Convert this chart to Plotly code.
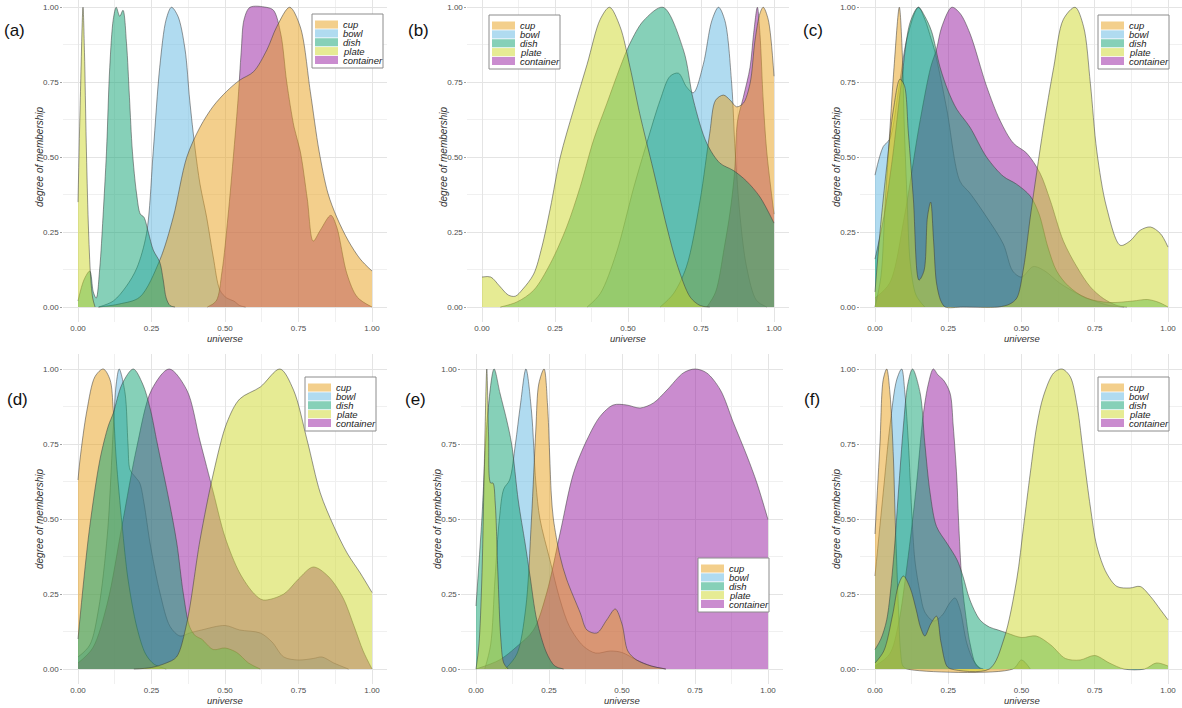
import plotly.graph_objects as go

# ---------------- data ----------------
CATEGORIES = ["cup", "bowl", "dish", "plate", "container"]
DRAW_ORDER = ["bowl", "container", "cup", "dish", "plate"]
TICK_VALS = [0, 0.25, 0.5, 0.75, 1.0]
TICK_TEXT = ["0.00", "0.25", "0.50", "0.75", "1.00"]
MINOR_VALS = [0.125, 0.375, 0.625, 0.875]
PANEL_LABELS = ["(a)", "(b)", "(c)", "(d)", "(e)", "(f)"]
X_TITLE = "universe"
Y_TITLE = "degree of membership"

# panel (a)
a_cup = [(0.07, 0.0), (0.14, 0.01), (0.21, 0.033), (0.278, 0.156), (0.324, 0.3), (0.37, 0.5), (0.415, 0.6),
         (0.46, 0.67), (0.506, 0.72), (0.55, 0.757), (0.597, 0.785), (0.642, 0.857), (0.676, 0.935), (0.72, 1.0),
         (0.756, 0.935), (0.79, 0.72), (0.82, 0.52), (0.85, 0.38), (0.88, 0.3), (0.92, 0.22), (0.96, 0.16), (1.0, 0.12)]
a_bowl = [(0.07, 0.0), (0.12, 0.02), (0.165, 0.07), (0.2, 0.13), (0.233, 0.245), (0.256, 0.52), (0.278, 0.8),
          (0.3, 0.96), (0.318, 1.0), (0.34, 0.97), (0.364, 0.86), (0.38, 0.69), (0.398, 0.53), (0.415, 0.41),
          (0.4375, 0.3), (0.46, 0.167), (0.483, 0.056), (0.506, 0.03), (0.53, 0.02), (0.55, 0.005), (0.57, 0.0)]
a_dish = [(0.0, 0.02), (0.02, 0.09), (0.04, 0.12), (0.052, 0.05), (0.062, 0.03), (0.074, 0.13), (0.085, 0.3),
          (0.097, 0.52), (0.108, 0.8), (0.12, 0.96), (0.13, 1.0), (0.142, 0.97), (0.153, 0.99), (0.165, 0.88),
          (0.175, 0.7), (0.185, 0.52), (0.199, 0.38), (0.212, 0.31), (0.224, 0.3), (0.239, 0.25), (0.256, 0.19),
          (0.278, 0.15), (0.29, 0.09), (0.3, 0.03), (0.313, 0.005), (0.33, 0.0)]
a_plate = [(0.0, 0.35), (0.008, 0.7), (0.017, 1.0), (0.022, 0.85), (0.028, 0.55), (0.035, 0.28), (0.043, 0.1),
           (0.05, 0.03), (0.058, 0.0)]
a_container = [(0.44, 0.0), (0.47, 0.02), (0.49, 0.12), (0.51, 0.3), (0.53, 0.52), (0.545, 0.7), (0.555, 0.85),
               (0.565, 0.96), (0.585, 1.0), (0.64, 1.0), (0.665, 0.99), (0.69, 0.91), (0.71, 0.75), (0.735, 0.6),
               (0.756, 0.52), (0.78, 0.36), (0.8, 0.22), (0.824, 0.256), (0.86, 0.306), (0.88, 0.267),
               (0.915, 0.11), (0.95, 0.033), (1.0, 0.0)]

# panel (b)
b_cup = [(0.61, 0.0), (0.656, 0.045), (0.7, 0.134), (0.747, 0.356), (0.78, 0.58), (0.8, 0.69), (0.827, 0.707),
         (0.85, 0.69), (0.872, 0.668), (0.895, 0.68), (0.918, 0.746), (0.935, 0.89), (0.952, 0.98), (0.963, 1.0),
         (0.98, 0.96), (1.0, 0.77)]
b_bowl = [(0.36, 0.0), (0.405, 0.045), (0.46, 0.18), (0.52, 0.4), (0.564, 0.546), (0.61, 0.69), (0.644, 0.77),
          (0.673, 0.78), (0.7, 0.735), (0.724, 0.715), (0.758, 0.81), (0.787, 0.955), (0.81, 1.0), (0.832, 0.955),
          (0.855, 0.746), (0.867, 0.52), (0.884, 0.3), (0.906, 0.134), (0.94, 0.022), (0.975, 0.0)]
b_dish = [(0.063, 0.0), (0.12, 0.017), (0.177, 0.056), (0.234, 0.145), (0.29, 0.267), (0.336, 0.4), (0.382, 0.557),
          (0.428, 0.68), (0.473, 0.8), (0.507, 0.88), (0.553, 0.955), (0.62, 1.0), (0.69, 0.857), (0.724, 0.69),
          (0.77, 0.546), (0.815, 0.48), (0.86, 0.456), (0.906, 0.42), (0.952, 0.367), (1.0, 0.28)]
b_plate = [(0.0, 0.1), (0.03, 0.1), (0.06, 0.07), (0.09, 0.04), (0.114, 0.036), (0.14, 0.06), (0.177, 0.11),
           (0.205, 0.2), (0.234, 0.33), (0.268, 0.5), (0.314, 0.66), (0.36, 0.81), (0.405, 0.96), (0.437, 1.0),
           (0.473, 0.935), (0.507, 0.8), (0.54, 0.646), (0.587, 0.456), (0.633, 0.267), (0.667, 0.145),
           (0.713, 0.033), (0.747, 0.005), (0.78, 0.0)]
b_container = [(0.77, 0.0), (0.8, 0.05), (0.83, 0.2), (0.85, 0.32), (0.865, 0.45), (0.875, 0.62), (0.895, 0.7),
               (0.918, 0.8), (0.93, 0.91), (0.943, 1.0), (0.952, 0.91), (0.963, 0.69), (0.975, 0.52), (1.0, 0.31)]

# panel (c)
c_cup = [(0.0, 0.0), (0.02, 0.1), (0.035, 0.35), (0.05, 0.58), (0.065, 0.8), (0.083, 1.0), (0.093, 0.85),
         (0.1, 0.6), (0.11, 0.35), (0.12, 0.15), (0.14, 0.04), (0.17, 0.0)]
c_bowl = [(0.0, 0.44), (0.028, 0.535), (0.05, 0.56), (0.08, 0.72), (0.11, 0.9), (0.148, 1.0), (0.17, 0.96),
          (0.19, 0.9), (0.205, 0.85), (0.245, 0.66), (0.29, 0.42), (0.324, 0.38), (0.381, 0.3), (0.438, 0.21),
          (0.47, 0.12), (0.5, 0.1), (0.54, 0.135), (0.58, 0.12), (0.63, 0.08), (0.7, 0.04), (0.75, 0.02),
          (0.8, 0.005), (0.85, 0.0)]
c_dish = [(0.0, 0.16), (0.03, 0.3), (0.06, 0.5), (0.09, 0.75), (0.12, 0.95), (0.148, 1.0), (0.17, 0.97),
          (0.193, 0.92), (0.222, 0.8), (0.25, 0.72), (0.279, 0.66), (0.324, 0.6), (0.381, 0.5), (0.438, 0.436),
          (0.483, 0.41), (0.53, 0.37), (0.56, 0.31), (0.59, 0.2), (0.62, 0.12), (0.66, 0.07), (0.72, 0.03),
          (0.8, 0.015), (0.88, 0.02), (0.93, 0.025), (0.97, 0.015), (1.0, 0.0)]
c_plate = [(0.0, 0.05), (0.017, 0.25), (0.04, 0.47), (0.063, 0.66), (0.085, 0.76), (0.1, 0.74), (0.114, 0.58),
           (0.131, 0.36), (0.15, 0.09), (0.167, 0.12), (0.179, 0.3), (0.19, 0.35), (0.2, 0.22), (0.21, 0.08),
           (0.225, 0.02), (0.24, 0.0), (0.3, 0.0), (0.42, 0.0), (0.46, 0.01), (0.484, 0.03), (0.507, 0.13),
           (0.53, 0.3), (0.552, 0.45), (0.575, 0.6), (0.61, 0.8), (0.643, 0.96), (0.683, 1.0), (0.712, 0.935),
           (0.735, 0.746), (0.757, 0.52), (0.79, 0.334), (0.837, 0.206), (0.87, 0.22), (0.905, 0.256),
           (0.94, 0.267), (0.974, 0.245), (1.0, 0.2)]
c_container = [(0.0, 0.03), (0.05, 0.08), (0.1, 0.3), (0.15, 0.6), (0.19, 0.8), (0.21, 0.86), (0.228, 0.935),
               (0.262, 1.0), (0.29, 0.98), (0.324, 0.913), (0.381, 0.736), (0.426, 0.624), (0.472, 0.547),
               (0.518, 0.513), (0.563, 0.447), (0.598, 0.356), (0.643, 0.22), (0.689, 0.134), (0.735, 0.067),
               (0.78, 0.028), (0.826, 0.005), (0.86, 0.0)]

# panel (d)
d_cup = [(0.0, 0.63), (0.007, 0.7), (0.03, 0.86), (0.058, 0.975), (0.086, 1.0), (0.109, 0.964), (0.12, 0.864),
         (0.13, 0.7), (0.15, 0.48), (0.17, 0.3), (0.2, 0.14), (0.23, 0.05), (0.26, 0.015), (0.3, 0.0)]
d_bowl = [(0.0, 0.04), (0.04, 0.08), (0.07, 0.2), (0.1, 0.45), (0.12, 0.8), (0.13, 0.95), (0.14, 1.0),
          (0.16, 0.92), (0.17, 0.75), (0.177, 0.664), (0.195, 0.64), (0.21, 0.62), (0.225, 0.55), (0.245, 0.42),
          (0.279, 0.253), (0.313, 0.142), (0.347, 0.11), (0.38, 0.12), (0.42, 0.13), (0.5, 0.145), (0.55, 0.13),
          (0.62, 0.12), (0.66, 0.09), (0.7, 0.04), (0.75, 0.03), (0.8, 0.035), (0.83, 0.04), (0.87, 0.02),
          (0.92, 0.0)]
d_dish = [(0.0, 0.1), (0.02, 0.3), (0.04, 0.475), (0.075, 0.7), (0.103, 0.81), (0.12, 0.853), (0.15, 0.95),
          (0.188, 1.0), (0.22, 0.95), (0.245, 0.87), (0.27, 0.75), (0.31, 0.56), (0.336, 0.42), (0.358, 0.253),
          (0.38, 0.14), (0.4, 0.11), (0.42, 0.1), (0.46, 0.065), (0.5, 0.07), (0.54, 0.055), (0.58, 0.02),
          (0.62, 0.0)]
d_plate = [(0.19, 0.0), (0.25, 0.005), (0.3, 0.02), (0.335, 0.04), (0.37, 0.153), (0.415, 0.43), (0.46, 0.65),
           (0.506, 0.82), (0.55, 0.9), (0.62, 0.94), (0.687, 1.0), (0.733, 0.93), (0.78, 0.76), (0.824, 0.587),
           (0.87, 0.476), (0.915, 0.387), (0.96, 0.32), (1.0, 0.255)]
d_container = [(0.0, 0.02), (0.05, 0.07), (0.1, 0.22), (0.15, 0.48), (0.2, 0.74), (0.25, 0.93), (0.31, 1.0),
               (0.37, 0.93), (0.415, 0.76), (0.46, 0.59), (0.5, 0.44), (0.55, 0.32), (0.6, 0.25), (0.63, 0.23),
               (0.7, 0.25), (0.75, 0.3), (0.8, 0.34), (0.85, 0.31), (0.9, 0.24), (0.94, 0.14), (0.97, 0.06),
               (1.0, 0.0)]

# panel (e)
e_cup = [(0.1, 0.0), (0.14, 0.05), (0.17, 0.2), (0.19, 0.5), (0.205, 0.8), (0.215, 0.95), (0.233, 1.0),
         (0.245, 0.88), (0.252, 0.72), (0.258, 0.58), (0.265, 0.5), (0.288, 0.375), (0.31, 0.3), (0.357, 0.187),
         (0.38, 0.13), (0.414, 0.12), (0.448, 0.164), (0.477, 0.2), (0.5, 0.15), (0.52, 0.06), (0.55, 0.03),
         (0.6, 0.01), (0.65, 0.0)]
e_bowl = [(0.03, 0.0), (0.05, 0.08), (0.065, 0.3), (0.08, 0.5), (0.095, 0.6), (0.115, 0.63), (0.135, 0.75),
          (0.152, 0.88), (0.171, 1.0), (0.19, 0.86), (0.205, 0.62), (0.219, 0.5), (0.253, 0.364), (0.288, 0.23),
          (0.32, 0.142), (0.368, 0.076), (0.41, 0.053), (0.46, 0.06), (0.5, 0.055), (0.55, 0.03), (0.6, 0.01),
          (0.65, 0.0)]
e_dish = [(0.0, 0.21), (0.02, 0.5), (0.04, 0.85), (0.062, 1.0), (0.082, 0.92), (0.105, 0.83), (0.122, 0.75),
          (0.145, 0.56), (0.168, 0.42), (0.185, 0.31), (0.208, 0.164), (0.242, 0.053), (0.27, 0.01), (0.3, 0.0)]
e_plate = [(0.0, 0.0), (0.01, 0.08), (0.02, 0.3), (0.03, 0.75), (0.037, 1.0), (0.043, 0.78), (0.05, 0.62),
           (0.058, 0.62), (0.066, 0.55), (0.075, 0.32), (0.085, 0.1), (0.095, 0.02), (0.11, 0.0)]
e_container = [(0.0, 0.0), (0.08, 0.03), (0.14, 0.075), (0.197, 0.13), (0.242, 0.253), (0.288, 0.453),
               (0.334, 0.653), (0.38, 0.764), (0.425, 0.842), (0.47, 0.88), (0.516, 0.88), (0.562, 0.87),
               (0.608, 0.887), (0.654, 0.93), (0.71, 0.987), (0.75, 1.0), (0.79, 0.987), (0.837, 0.93),
               (0.882, 0.82), (0.928, 0.71), (0.962, 0.62), (1.0, 0.498)]

# panel (f)
f_cup = [(0.0, 0.45), (0.017, 0.753), (0.028, 0.964), (0.04, 1.0), (0.051, 0.92), (0.063, 0.7), (0.068, 0.53),
         (0.074, 0.36), (0.08, 0.2), (0.087, 0.06), (0.095, 0.01), (0.11, 0.0), (0.47, 0.0), (0.5, 0.03),
         (0.53, 0.0)]
f_bowl = [(0.0, 0.31), (0.028, 0.587), (0.051, 0.81), (0.074, 0.964), (0.091, 1.0), (0.102, 0.92), (0.114, 0.753),
          (0.125, 0.53), (0.136, 0.364), (0.154, 0.253), (0.17, 0.19), (0.2, 0.16), (0.23, 0.18), (0.255, 0.22),
          (0.273, 0.237), (0.29, 0.2), (0.313, 0.087), (0.335, 0.03), (0.36, 0.0)]
f_dish = [(0.0, 0.065), (0.02, 0.1), (0.04, 0.164), (0.063, 0.364), (0.08, 0.59), (0.097, 0.81), (0.112, 0.95),
          (0.128, 1.0), (0.154, 0.92), (0.17, 0.753), (0.188, 0.587), (0.21, 0.475), (0.245, 0.42), (0.28, 0.364),
          (0.3, 0.31), (0.324, 0.23), (0.358, 0.164), (0.39, 0.14), (0.42, 0.13), (0.45, 0.12), (0.5, 0.105),
          (0.55, 0.11), (0.6, 0.08), (0.65, 0.035), (0.7, 0.03), (0.75, 0.045), (0.8, 0.02), (0.85, 0.0),
          (0.92, 0.0), (0.96, 0.02), (1.0, 0.01)]
f_plate = [(0.0, 0.02), (0.03, 0.06), (0.06, 0.18), (0.08, 0.28), (0.097, 0.31), (0.12, 0.27), (0.14, 0.2),
           (0.155, 0.14), (0.17, 0.11), (0.19, 0.15), (0.21, 0.176), (0.225, 0.09), (0.245, 0.01), (0.26, 0.0),
           (0.39, 0.0), (0.44, 0.1), (0.484, 0.3), (0.507, 0.475), (0.53, 0.653), (0.552, 0.81), (0.575, 0.91),
           (0.61, 0.987), (0.638, 1.0), (0.666, 0.975), (0.69, 0.876), (0.712, 0.71), (0.735, 0.54),
           (0.757, 0.41), (0.79, 0.32), (0.826, 0.275), (0.87, 0.27), (0.905, 0.275), (0.94, 0.242),
           (0.974, 0.198), (1.0, 0.164)]
f_container = [(0.0, 0.01), (0.05, 0.05), (0.08, 0.15), (0.11, 0.35), (0.14, 0.6), (0.165, 0.85), (0.182, 0.95),
               (0.199, 1.0), (0.215, 0.98), (0.233, 0.964), (0.256, 0.92), (0.267, 0.81), (0.279, 0.64),
               (0.285, 0.5), (0.296, 0.3), (0.307, 0.2), (0.324, 0.087), (0.347, 0.01), (0.37, 0.0)]

PANELS = [
    {"cup": a_cup, "bowl": a_bowl, "dish": a_dish, "plate": a_plate, "container": a_container},
    {"cup": b_cup, "bowl": b_bowl, "dish": b_dish, "plate": b_plate, "container": b_container},
    {"cup": c_cup, "bowl": c_bowl, "dish": c_dish, "plate": c_plate, "container": c_container},
    {"cup": d_cup, "bowl": d_bowl, "dish": d_dish, "plate": d_plate, "container": d_container},
    {"cup": e_cup, "bowl": e_bowl, "dish": e_dish, "plate": e_plate, "container": e_container},
    {"cup": f_cup, "bowl": f_bowl, "dish": f_dish, "plate": f_plate, "container": f_container},
]

# ---------------- styles / layout ----------------
W, H = 1182, 708
BASE = {"cup": (231, 159, 25), "bowl": (97, 183, 225), "dish": (13, 161, 113),
        "plate": (205, 215, 41), "container": (150, 25, 160)}
ALPHA = 0.5
FONT = "Liberation Sans, Arial, sans-serif"

# pixel position of value 0 and value 1 on the x axis, row index
GEOM = [(78, 372, 0), (482, 774, 0), (875, 1168, 0), (78, 372, 1), (476, 768, 1), (875, 1168, 1)]
# legend box top-left pixel
LEGEND_POS = [(312, 14), (489, 15), (1098, 15), (305, 377), (698, 558), (1098, 377)]
# panel label pixel centre
LABEL_POS = [(14, 30), (418, 30), (813, 30), (17, 399), (415, 399), (812, 399)]
ROWS = {0: dict(top=0, bottom=322, yrange=[-0.05, 1 + 7.3 / 300], xtitle_y=338, ycenter=157),
        1: dict(top=354, bottom=684, yrange=[-0.05, 1.05], xtitle_y=700, ycenter=519)}


def pxx(p):
    return p / W


def pxy(p):
    return 1 - p / H


def rgba(c, a):
    return "rgba(%d,%d,%d,%.2f)" % (c[0], c[1], c[2], a)


fig = go.Figure()
layout = dict(width=W, height=H, margin=dict(l=0, r=0, t=0, b=0),
              paper_bgcolor="white", plot_bgcolor="white", showlegend=False)
shapes, annotations = [], []

for i, panel in enumerate(PANELS):
    n = i + 1
    x0p, x1p, row = GEOM[i]
    s = x1p - x0p
    left = max(0.0, x0p - 0.05 * s)
    right = min(float(W), x1p + 0.05 * s)
    r = ROWS[row]
    xname = "x" if n == 1 else "x%d" % n
    yname = "y" if n == 1 else "y%d" % n

    for cat in DRAW_ORDER:
        pts = panel[cat]
        fig.add_trace(go.Scatter(
            x=[p[0] for p in pts], y=[p[1] for p in pts],
            mode="lines", line=dict(shape="spline", smoothing=0.9, color="rgba(60,60,60,0.75)", width=0.7),
            fill="tozeroy", fillcolor=rgba(BASE[cat], ALPHA), name=cat,
            xaxis=xname, yaxis=yname, hoverinfo="x+y+name"))

    common = dict(showgrid=True, gridcolor="#E4E4E4", gridwidth=0.8, zeroline=False, showline=False,
                  tickvals=TICK_VALS, ticktext=TICK_TEXT, tickcolor="#A0A0A0",
                  tickfont=dict(family=FONT, size=8, color="#4D4D4D"),
                  minor=dict(tickvals=MINOR_VALS, showgrid=True, gridcolor="#F0F0F0", gridwidth=0.6, ticks=""))
    layout["xaxis" if n == 1 else "xaxis%d" % n] = dict(
        common, domain=[pxx(left), pxx(right)], ticks="",
        range=[(left - x0p) / s, (right - x0p) / s], anchor=yname)
    layout["yaxis" if n == 1 else "yaxis%d" % n] = dict(
        common, domain=[pxy(r["bottom"]), pxy(r["top"])], range=r["yrange"], anchor=xname,
        ticks="outside", ticklen=2)

    # axis titles
    annotations.append(dict(text="<i>%s</i>" % X_TITLE, xref="paper", yref="paper",
                            x=pxx((x0p + x1p) / 2), y=pxy(r["xtitle_y"]), showarrow=False,
                            xanchor="center", yanchor="middle",
                            font=dict(family=FONT, size=9.5, color="#333333")))
    annotations.append(dict(text="<i>%s</i>" % Y_TITLE, xref="paper", yref="paper",
                            x=pxx(x0p - 39), y=pxy(r["ycenter"]), showarrow=False, textangle=-90,
                            xanchor="center", yanchor="middle",
                            font=dict(family=FONT, size=10, color="#333333")))
    # panel label
    lx, ly = LABEL_POS[i]
    annotations.append(dict(text=PANEL_LABELS[i], xref="paper", yref="paper", x=pxx(lx), y=pxy(ly),
                            showarrow=False, xanchor="center", yanchor="middle",
                            font=dict(family=FONT, size=17, color="#111111")))

    # legend
    bl, bt = LEGEND_POS[i]
    bw, bh = 71, 54
    shapes.append(dict(type="rect", xref="paper", yref="paper", x0=pxx(bl), x1=pxx(bl + bw),
                       y0=pxy(bt + bh), y1=pxy(bt), line=dict(color="#8C8C8C", width=1), fillcolor="white"))
    rh = 8.86
    for k, cat in enumerate(CATEGORIES):
        top = bt + 6.5 + k * rh
        shapes.append(dict(type="rect", xref="paper", yref="paper", x0=pxx(bl + 3), x1=pxx(bl + 26),
                           y0=pxy(top + rh - 0.8), y1=pxy(top), line=dict(width=0),
                           fillcolor=rgba(BASE[cat], ALPHA)))
        annotations.append(dict(text="<i>%s</i>" % cat, xref="paper", yref="paper",
                                x=pxx(bl + 29), y=pxy(top + rh / 2), showarrow=False,
                                xanchor="left", yanchor="middle",
                                font=dict(family=FONT, size=9.5, color="#222222")))

layout["shapes"] = shapes
layout["annotations"] = annotations
fig.update_layout(**layout)
fig.write_html("out.html", config={"displayModeBar": False},
               post_script="document.body.style.margin='0px';document.body.style.overflow='hidden';")
